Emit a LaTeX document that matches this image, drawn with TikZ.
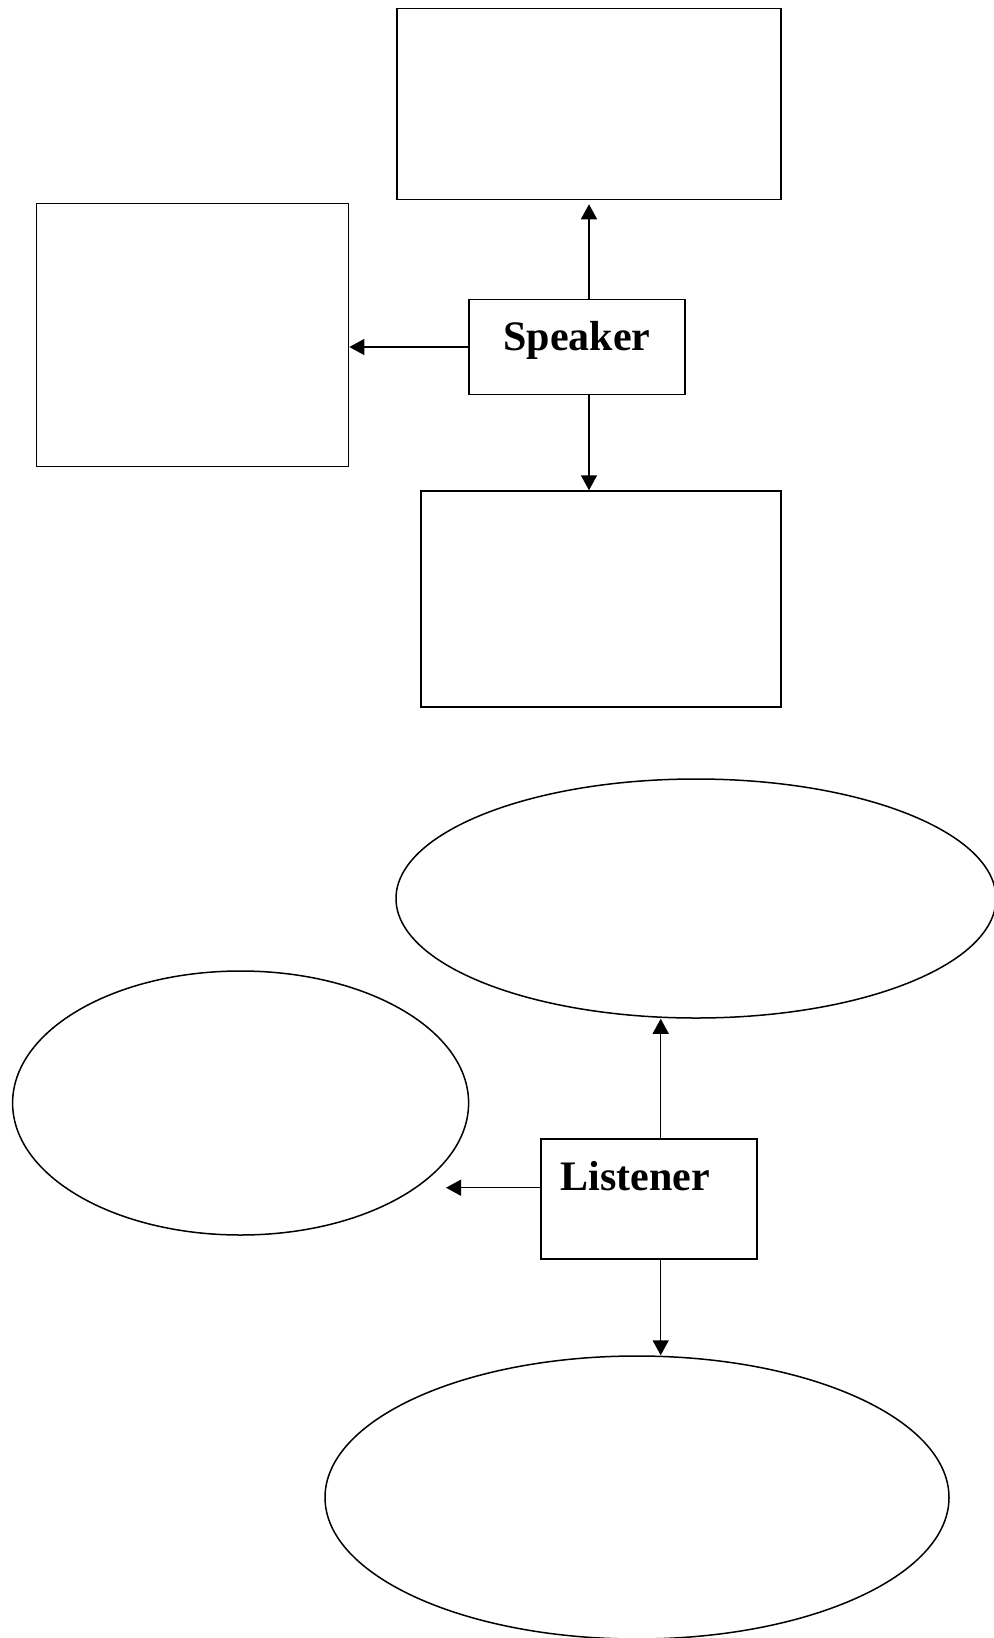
\documentclass[tikz,border=0pt]{standalone}
\usepackage{fontspec}
\setmainfont{Liberation Serif}
\usetikzlibrary{arrows.meta,shapes.geometric}
\begin{document}
\begin{tikzpicture}[x=0.5pt,y=-0.5pt,
    line width=0.75pt,
    box/.style={draw,rectangle,inner sep=0pt},
    oval/.style={draw,ellipse,inner sep=0pt},
    lbl/.style={anchor=base,inner sep=0pt,font=\fontsize{21}{25}\selectfont\bfseries},
    link/.style={-{Triangle[length=7.5pt,width=8pt]}}]
    \useasboundingbox (0,0) rectangle (994,1638);
    % speaker part
    \node[box,minimum width=192pt,minimum height=95.5pt] (top) at (589,104) {};
    \node[box,minimum width=156pt,minimum height=131.5pt] (lbox) at (192.6,335) {};
    \node[box,minimum width=180pt,minimum height=108pt] (bbox) at (601,599) {};
    \node[box,minimum width=108pt,minimum height=47.5pt] (spk) at (577,347) {};
    \node[lbl] (spktxt) at (577,350) {Speaker};
    \draw[link,shorten >=2pt] (spk.north -| top.south) -- (top.south);
    \draw[link] (spk.west) -- (spk.west -| lbox.east);
    \draw[link] (spk.south -| top.south) -- (bbox.north -| top.south);
    % listener part
    \node[oval,minimum width=300pt,minimum height=119.5pt] (tell) at (696,898.5) {};
    \node[oval,minimum width=228pt,minimum height=132pt] (lell) at (240.6,1103) {};
    \node[oval,minimum width=312pt,minimum height=141.5pt] (bell) at (637,1497.5) {};
    \node[box,minimum width=108pt,minimum height=60pt] (lst) at (649,1199) {};
    \node[lbl] (lsttxt) at (635,1190) {Listener};
    \coordinate (lup) at (660.7,0);
    \coordinate (ltip) at (446,1187.7);
    \draw[link] (lst.north -| lup) -- (tell.south -| lup);
    \draw[link] (lst.west |- ltip) -- (ltip);
    \draw[link] (lst.south -| lup) -- (bell.north -| lup);
\end{tikzpicture}
\end{document}
